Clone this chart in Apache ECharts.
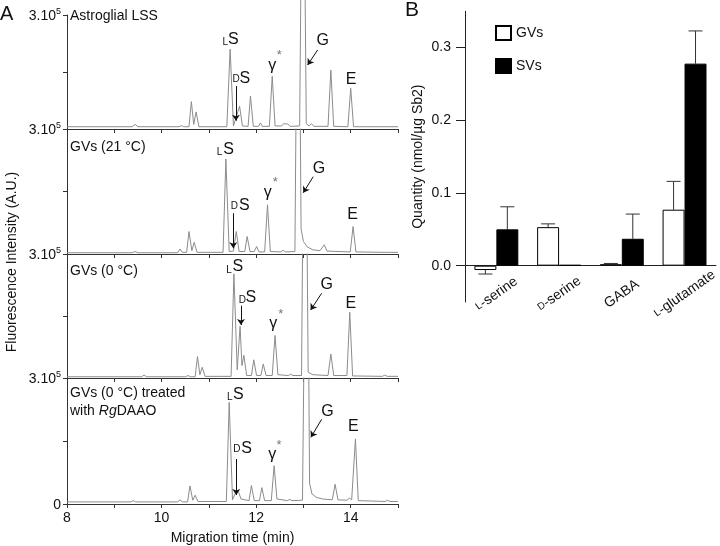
<!DOCTYPE html>
<html><head><meta charset="utf-8">
<script src="https://cdn.jsdelivr.net/npm/echarts@6/dist/echarts.min.js"></script>
<style>html,body{margin:0;padding:0;background:#fff}#c{width:720px;height:546px}</style>
</head><body><div id="c"></div>
<script>
// ---------- Panel A: electropherograms (time in min, intensity in thousands) ----------
const traceAstro = [[8,6],[9.38,6],[9.44,12],[9.50,6],[10.37,6],[10.42,9],[10.47,6],[10.58,6],[10.63,72],[10.68,12],[10.73,45],[10.79,6],[11.38,6],[11.45,210],[11.52,8],[11.56,10],[11.65,60],[11.71,8],[11.83,7],[11.88,87],[11.94,7],[12.05,7],[12.09,16],[12.13,7],[12.28,7],[12.34,139],[12.40,8],[12.54,8],[12.58,14],[12.62,10],[12.67,13],[12.72,7],[12.92,8],[12.99,1000],[13.06,14],[13.12,8],[13.17,14],[13.22,7],[13.52,7],[13.58,155],[13.64,7],[13.94,6],[14.0,107],[14.06,6],[14.26,6],[14.3,9],[14.34,6],[15,6]];
const traceGV21 = [[8,3],[9.38,3],[9.44,6],[9.5,3],[10.34,3],[10.39,12],[10.44,4],[10.53,4],[10.58,54],[10.64,8],[10.69,28],[10.75,4],[11.3,4],[11.36,228],[11.43,6],[11.52,7],[11.58,54],[11.64,6],[11.76,6],[11.81,42],[11.87,6],[11.96,6],[12.01,18],[12.06,5],[12.18,5],[12.24,118],[12.30,6],[12.52,5],[12.57,9],[12.62,5],[12.82,6],[12.89,1000],[12.95,60],[13.0,30],[13.08,17],[13.2,10],[13.35,8],[13.39,8],[13.44,22],[13.50,7],[13.99,5],[14.05,66],[14.11,5],[14.68,4],[14.72,6],[14.76,4],[15,4]];
const traceGV0 = [[8,3],[9.58,3],[9.63,7],[9.68,3],[10.51,3],[10.56,6],[10.61,3],[10.71,3],[10.76,52],[10.81,8],[10.86,26],[10.92,4],[11.47,4],[11.53,252],[11.60,20],[11.66,125],[11.70,30],[11.74,55],[11.80,6],[11.90,6],[11.95,44],[12.01,6],[12.10,6],[12.15,34],[12.21,6],[12.34,6],[12.40,103],[12.46,8],[12.68,6],[12.73,9],[12.78,6],[12.96,6],[13.03,1000],[13.10,14],[13.2,8],[13.52,6],[13.58,58],[13.64,6],[13.92,6],[13.98,159],[14.04,5],[14.67,4],[14.72,7],[14.77,4],[15,4]];
const traceGV0DAAO = [[8,5],[9.35,5],[9.40,8],[9.45,5],[10.34,5],[10.39,10],[10.44,5],[10.55,5],[10.60,43],[10.66,9],[10.71,21],[10.77,6],[11.37,6],[11.43,242],[11.50,10],[11.53,12],[11.59,33],[11.63,28],[11.68,12],[11.85,8],[11.90,44],[11.96,8],[12.07,8],[12.12,39],[12.18,8],[12.32,8],[12.38,91],[12.44,12],[12.66,8],[12.71,11],[12.76,8],[12.98,9],[13.07,1000],[13.13,50],[13.18,24],[13.27,16],[13.40,12],[13.61,10],[13.67,47],[13.73,10],[13.92,9],[13.97,14],[14.02,10],[14.10,155],[14.16,8],[14.73,6],[14.78,9],[14.83,6],[15,6]];
const traces = [traceAstro, traceGV21, traceGV0, traceGV0DAAO];
const panelTitles = ['Astroglial LSS', 'GVs (21 °C)', 'GVs (0 °C)', 'GVs (0 °C) treated\nwith {i|Rg}DAAO'];
const xTickLabels = [8, 10, 12, 14];
const yTopLabel = '{a|3.10}{s|5}';
// peak annotations [text, time, intensity]
const annLabels = [
  [['L',11.345,227.7],['S',11.516,236.1],['D',11.579,130.8],['S',11.763,133.4],['γ',12.340,167.7],['*',12.488,193.4],['G',13.408,232.1],['E',14.008,131.1]],
  [['L',11.224,243.6],['S',11.419,249.6],['D',11.537,115.2],['S',11.748,116.9],['γ',12.243,148.1],['*',12.404,171.1],['G',13.328,205.7],['E',14.040,93.6]],
  [['L',11.429,261.7],['S',11.611,268.4],['D',11.710,188.7],['S',11.890,194.0],['γ',12.362,132.3],['*',12.520,154.3],['G',13.490,225.7],['E',14.0,180.7]],
  [['L',11.440,253.6],['S',11.622,259.5],['D',11.590,129.8],['S',11.799,132.6],['γ',12.338,116.7],['*',12.486,138.6],['G',13.507,219.0],['E',14.053,184.0]]
];
// arrows [t1, v1, t2, v2]
const annArrows = [
  [[11.573,113,11.573,22],[13.300,207.9,13.089,168.4]],
  [[11.516,97.7,11.516,13.7],[13.207,185.5,12.996,147.1]],
  [[11.679,174.9,11.679,128.2],[13.385,204.9,13.152,164.5]],
  [[11.579,107.1,11.579,21.4],[13.385,201.7,13.158,158.8]]
];

// ---------- Panel B: quantities ----------
const categories = ['L-serine', 'D-serine', 'GABA', 'L-glutamate'];
const gvValues = [-0.006, 0.053, 0.002, 0.077];
const gvErrors = [0.0055, 0.0045, 0.001, 0.039];
const svValues = [0.050, 0.001, 0.037, 0.278];
const svErrors = [0.031, 0, 0.034, 0.045];
const bTicks = [0, 0.1, 0.2, 0.3];

const FONT = 'Liberation Sans, Arial, sans-serif';
const INK = '#111';
const chart = echarts.init(document.getElementById('c'), null, {renderer: 'canvas'});

const gridsA = [
  {left: 67, width: 331, top: 15, height: 114},
  {left: 67, width: 331, top: 129, height: 125},
  {left: 67, width: 331, top: 254, height: 124},
  {left: 67, width: 331, top: 378, height: 126}
];
const grids = gridsA.concat([{left: 465, width: 254, top: 11.3, height: 290.7}]);

const xAxes = [], yAxes = [], series = [];
gridsA.forEach((g, i) => {
  xAxes.push({
    type: 'value', gridIndex: i, min: 8, max: 15, interval: 1,
    axisLine: {show: true, lineStyle: {color: '#333', width: 1}},
    axisTick: {show: true, length: 4, lineStyle: {color: '#333'}},
    axisLabel: {show: i === 3, margin: 7, fontSize: 14, color: INK, fontFamily: FONT,
      formatter: v => xTickLabels.includes(v) ? String(v) : ''},
    splitLine: {show: false},
    name: i === 3 ? 'Migration time (min)' : '',
    nameLocation: 'middle', nameGap: 27,
    nameTextStyle: {fontSize: 14, color: INK, fontFamily: FONT}
  });
  yAxes.push({
    type: 'value', gridIndex: i, min: 0, max: 300, interval: 150,
    axisLine: {show: true, lineStyle: {color: '#333', width: 1}},
    axisTick: {show: true, length: 4, lineStyle: {color: '#333'}},
    axisLabel: {margin: 6, color: INK, fontFamily: FONT,
      formatter: v => v === 300 ? yTopLabel : (v === 0 && i === 3 ? '{a|0}' : ''),
      rich: {a: {fontSize: 14, color: INK, fontFamily: FONT, verticalAlign: 'bottom', lineHeight: 16},
             s: {fontSize: 9, color: INK, fontFamily: FONT, verticalAlign: 'top', lineHeight: 16}}},
    splitLine: {show: false}
  });
  series.push({
    type: 'line', xAxisIndex: i, yAxisIndex: i, data: traces[i],
    showSymbol: false, symbol: 'none', clip: i !== 0,
    lineStyle: {color: '#8c8c8c', width: 1},
    silent: true, animation: false,
    markPoint: {
      silent: true, animation: false,
      data: annLabels[i].map(([txt, t, v]) => {
        const small = txt === 'L' || txt === 'D';
        const star = txt === '*';
        return {
          coord: [t, v], symbol: 'rect', symbolSize: 1,
          itemStyle: {color: 'rgba(0,0,0,0)'},
          label: {show: true, position: 'inside', formatter: txt,
            fontSize: small ? 10 : (star ? 13 : 16), color: star ? '#777' : INK, fontFamily: FONT}
        };
      })
    },
    markLine: {
      silent: true, animation: false, symbol: ['none', 'arrow'], symbolSize: 6,
      label: {show: false},
      lineStyle: {color: INK, width: 1, type: 'solid'},
      emphasis: {disabled: true},
      data: annArrows[i].map(a => [{coord: [a[0], a[1]]}, {coord: [a[2], a[3]]}])
    }
  });
});

// Panel B axes
xAxes.push({
  type: 'category', gridIndex: 4, data: categories,
  axisLine: {show: true, onZero: true, lineStyle: {color: '#222', width: 1}},
  axisTick: {show: false},
  axisLabel: {rotate: 35, align: 'center', verticalAlign: 'middle', margin: -8, interval: 0,
    color: INK, fontFamily: FONT, fontSize: 14,
    formatter: v => {
      if (v.startsWith('L-') || v.startsWith('D-')) return '{sc|' + v[0] + '}' + v.slice(1);
      return v;
    },
    rich: {sc: {fontSize: 10, color: INK, fontFamily: FONT}}}
});
yAxes.push({
  type: 'value', gridIndex: 4, min: -0.05, max: 0.35,
  axisLine: {show: true, lineStyle: {color: '#222', width: 1}},
  axisTick: {show: true, length: 9, customValues: bTicks, lineStyle: {color: '#222'}},
  axisLabel: {customValues: bTicks, margin: 14, fontSize: 14, color: INK, fontFamily: FONT,
    formatter: v => v.toFixed(1)},
  splitLine: {show: false},
  name: 'Quantity (nmol/µg Sb2)', nameLocation: 'middle', nameGap: 40,
  nameTextStyle: {fontSize: 14, color: INK, fontFamily: FONT}
});

series.push({
  name: 'GVs', type: 'bar', xAxisIndex: 4, yAxisIndex: 4, data: gvValues,
  barGap: '0%', barCategoryGap: '30%', animation: false,
  itemStyle: {color: '#fff', borderColor: '#000', borderWidth: 1}
});
series.push({
  name: 'SVs', type: 'bar', xAxisIndex: 4, yAxisIndex: 4, data: svValues,
  barGap: '0%', barCategoryGap: '30%', animation: false,
  itemStyle: {color: '#000', borderColor: '#000', borderWidth: 1}
});
function errorSeries(vals, errs, sign) {
  return {
    type: 'custom', xAxisIndex: 4, yAxisIndex: 4, silent: true, animation: false,
    data: vals.map((v, j) => [j, v, errs[j]]),
    encode: {x: 0, y: 1},
    renderItem: (params, api) => {
      const j = api.value(0), v = api.value(1), e = api.value(2);
      if (!(e > 0)) return null;
      const bw = api.size([1, 0])[0];
      const p0 = api.coord([j, v]);
      const p1 = api.coord([j, v < 0 ? v - e : v + e]);
      const x = p0[0] + sign * bw * 0.175;
      const cap = 7;
      return {type: 'group', children: [
        {type: 'line', shape: {x1: x, y1: p0[1], x2: x, y2: p1[1]}, style: {stroke: '#333', lineWidth: 1}},
        {type: 'line', shape: {x1: x - cap, y1: p1[1], x2: x + cap, y2: p1[1]}, style: {stroke: '#333', lineWidth: 1}}
      ]};
    }
  };
}
series.push(errorSeries(gvValues, gvErrors, -1));
series.push(errorSeries(svValues, svErrors, 1));

const titleTops = [7, 137.5, 262, 384];
const graphic = panelTitles.map((t, i) => ({
  type: 'text', left: 70, top: titleTops[i], silent: true,
  style: {text: t, font: '14px ' + FONT, fill: INK, lineHeight: 18.4,
    rich: {i: {fontStyle: 'italic', fontSize: 14, fontFamily: FONT, fill: INK, lineHeight: 18.4}}}
}));
graphic.push({type: 'text', x: 12, y: 262, rotation: Math.PI / 2, silent: true,
  style: {text: 'Fluorescence Intensity (A.U.)', font: '14px ' + FONT, fill: INK, textAlign: 'center', textVerticalAlign: 'middle'}});
graphic.push({type: 'text', left: 0, top: 4, silent: true, style: {text: 'A', font: '20px ' + FONT, fill: INK}});
graphic.push({type: 'text', left: 405, top: 0, silent: true, style: {text: 'B', font: '21px ' + FONT, fill: INK}});

chart.setOption({
  animation: false,
  backgroundColor: '#fff',
  textStyle: {fontFamily: FONT},
  grid: grids,
  xAxis: xAxes,
  yAxis: yAxes,
  legend: {
    data: ['GVs', 'SVs'], orient: 'vertical', left: 490, top: 20,
    icon: 'rect', itemWidth: 15, itemHeight: 14, itemGap: 17,
    textStyle: {fontSize: 14, color: INK, fontFamily: FONT},
    selectedMode: false
  },
  graphic: graphic,
  series: series
});
</script></body></html>
